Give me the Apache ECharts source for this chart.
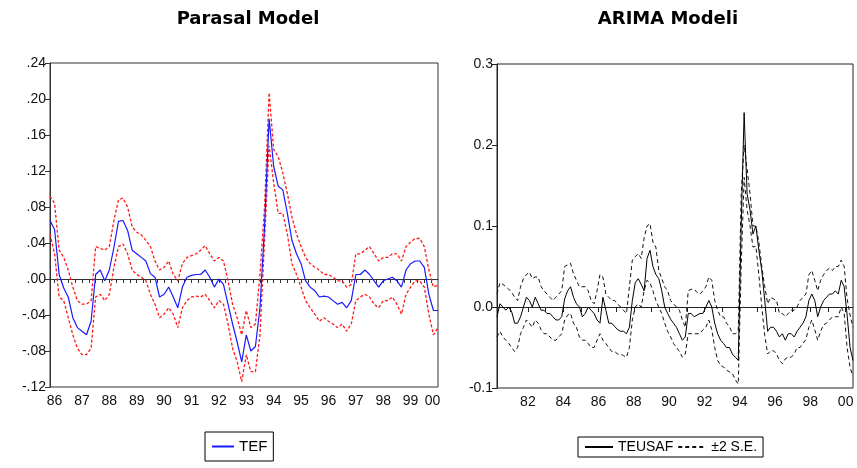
<!DOCTYPE html>
<html>
<head>
<meta charset="utf-8">
<script src="https://cdn.jsdelivr.net/npm/echarts@6/dist/echarts.min.js"></script>
<style>
  html, body { margin: 0; padding: 0; background: #fff; }
  #chart { width: 857px; height: 468px; }
</style>
</head>
<body>
<div id="chart"></div>
<script>
// left panel: bimonthly from May 1986
var leftStart = 1986 + 4 / 12;
var tef = [.065,.055,.005,-.01,-.02,-.043,-.054,-.058,-.062,-.047,
  .005,.01,-.002,.01,.035,.064,.065,.054,.032,.028,
  .024,.02,.006,.002,-.02,-.017,-.009,-.02,-.032,-.009,
  .002,.004,.005,.005,.01,.002,-.009,0,-.006,-.028,
  -.05,-.07,-.092,-.062,-.08,-.075,-.032,.058,.178,.125,
  .103,.099,.073,.043,.028,.017,-.002,-.009,-.013,-.02,
  -.019,-.02,-.024,-.028,-.026,-.032,-.024,.005,.005,.01,
  .005,-.002,-.009,-.002,0,.002,-.002,-.009,.01,.017,
  .02,.02,.013,-.017,-.035,-.035];
var tefUpper = [.092,.084,.032,.024,.01,-.009,-.024,-.028,-.028,-.024,
  .036,.034,.032,.036,.065,.088,.09,.08,.058,.052,
  .049,.043,.036,.02,.01,.013,.02,.005,-.002,.017,
  .024,.026,.028,.032,.037,.028,.02,.024,.02,-.002,
  -.028,-.043,-.062,-.035,-.054,-.05,.005,.08,.207,.144,
  .136,.118,.095,.069,.05,.036,.024,.017,.013,.01,
  .005,.005,.002,-.002,-.002,-.009,-.006,.028,.028,.032,
  .036,.028,.02,.024,.024,.028,.028,.02,.036,.041,
  .045,.045,.036,.01,-.009,-.007];
var tefLower = [.05,.028,-.02,-.024,-.043,-.062,-.077,-.084,-.084,-.077,
  -.02,-.017,-.024,-.017,.013,.036,.039,.028,.01,.005,
  .002,-.002,-.017,-.028,-.043,-.039,-.032,-.039,-.054,-.032,
  -.024,-.02,-.019,-.02,-.017,-.024,-.032,-.024,-.028,-.05,
  -.077,-.092,-.114,-.084,-.103,-.103,-.062,.043,.148,.107,
  .073,.073,.05,.017,.005,-.009,-.024,-.032,-.039,-.047,
  -.043,-.047,-.05,-.054,-.05,-.058,-.05,-.024,-.02,-.017,
  -.02,-.028,-.032,-.024,-.024,-.02,-.028,-.039,-.017,-.009,
  -.002,-.002,-.009,-.039,-.062,-.054];

// right panel: bimonthly from Apr 1980
var rightStart = 1980 + 3 / 12;
var teusaf = [-.012,.004,0,-.004,0,-.006,-.02,-.02,-.012,0,
  .012,.008,0,.012,.004,-.004,-.004,-.008,-.008,-.012,
  -.016,-.016,-.012,.01,.02,.025,.012,.004,0,-.012,
  -.008,0,-.004,-.008,-.016,-.02,.012,-.004,-.02,-.02,
  -.024,-.028,-.03,-.03,-.033,-.025,.008,.03,.035,.028,
  .02,.06,.07,.05,.04,.035,.02,0,-.008,-.015,
  -.02,-.025,-.033,-.041,-.037,-.008,-.008,-.012,-.01,-.008,
  -.008,0,.008,0,-.02,-.033,-.041,-.045,-.05,-.05,
  -.058,-.062,-.066,.1,.24,.14,.12,.09,.1,.07,
  .045,.008,-.03,-.025,-.025,-.03,-.037,-.033,-.041,-.033,
  -.033,-.037,-.03,-.025,-.02,-.012,.008,.016,.008,-.012,
  0,.008,.012,.016,.016,.02,.016,.033,.025,-.01,
  -.05,-.066];
var seUpper = [.016,.03,.028,.025,.022,.018,.012,.008,.025,.035,
  .04,.043,.035,.037,.037,.025,.02,.016,.012,.008,
  .012,.016,.02,.05,.052,.054,.041,.033,.025,.025,
  .025,.02,.008,.004,.02,.04,.037,.016,.012,.008,
  .008,.004,0,-.004,-.008,.025,.058,.062,.066,.06,
  .085,.1,.103,.08,.074,.045,.035,.025,.02,.008,
  .004,0,-.004,-.016,-.025,.02,.022,.022,.018,.016,
  .02,.025,.037,.033,.008,-.004,-.012,-.012,-.02,-.024,
  -.033,-.033,-.03,.14,.2,.17,.14,.1,.1,.08,
  .05,.025,.004,.012,.01,.008,-.008,-.008,-.012,-.008,
  -.004,-.004,0,.008,.012,.016,.04,.045,.033,.02,
  .033,.04,.045,.048,.045,.05,.05,.058,.05,.01,
  -.01,-.025];
var seLower = [-.037,-.03,-.037,-.041,-.045,-.05,-.055,-.05,-.033,-.025,
  -.016,-.02,-.025,-.016,-.02,-.028,-.033,-.033,-.037,-.041,
  -.041,-.037,-.033,-.016,-.01,-.008,-.02,-.025,-.037,-.041,
  -.041,-.045,-.05,-.05,-.041,-.033,-.041,-.045,-.05,-.055,
  -.055,-.058,-.058,-.06,-.062,-.05,-.016,0,.004,0,
  .02,.033,.03,.02,.008,0,-.008,-.02,-.03,-.037,
  -.045,-.05,-.055,-.062,-.058,-.033,-.033,-.033,-.033,-.033,
  -.028,-.025,-.016,-.028,-.05,-.066,-.072,-.074,-.078,-.08,
  -.082,-.09,-.095,.05,.16,.12,.1,.074,.075,.04,
  0,-.035,-.058,-.054,-.054,-.058,-.066,-.07,-.064,-.062,
  -.062,-.058,-.05,-.05,-.045,-.04,-.025,-.016,-.028,-.041,
  -.03,-.022,-.02,-.016,-.012,-.012,-.012,0,-.008,-.05,
  -.075,-.085];

var leftLabelAt = [1986.5,1987.5,1988.5,1989.5,1990.5,1991.5,1992.5,1993.5,
  1994.5,1995.5,1996.5,1997.5,1998.5,1999.5,2000.3];
var rightLabelAt = [1982,1984,1986,1988,1990,1992,1994,1996,1998,2000];

function pairs(start, vals) {
  return vals.map(function (v, i) { return [start + i / 6, v]; });
}
function range(a, b, step) {
  var out = [];
  for (var v = a; v <= b + 1e-9; v += step) out.push(+v.toFixed(3));
  return out;
}
function yy(v) { return String(Math.floor(v)).slice(2); }

var labelFont = { fontFamily: 'Liberation Sans', fontSize: 14, color: '#111' };
var frame = '#333';

function line(name, ax, data, color, width, dash) {
  return {
    name: name, type: 'line', xAxisIndex: ax, yAxisIndex: ax, data: data,
    symbol: 'none', lineStyle: { color: color, width: width, type: dash || 'solid' },
    itemStyle: { color: color }
  };
}

var chart = echarts.init(document.getElementById('chart'));
chart.setOption({
  animation: false,
  backgroundColor: '#fff',
  title: [
    { text: 'Parasal Model', left: 243, top: 5, textAlign: 'center',
      textStyle: { fontFamily: 'DejaVu Sans', fontWeight: 'bold', fontSize: 18, color: '#000' } },
    { text: 'ARIMA Modeli', left: 663, top: 5, textAlign: 'center',
      textStyle: { fontFamily: 'DejaVu Sans', fontWeight: 'bold', fontSize: 18, color: '#000' } }
  ],
  legend: [
    { data: ['TEF'], left: 205, top: 432, padding: [7, 6], itemWidth: 22, itemHeight: 10,
      borderColor: '#000', borderWidth: 1, borderRadius: 0, itemStyle: { opacity: 0 },
      textStyle: { fontFamily: 'Liberation Sans', fontSize: 15, color: '#000' } },
    { data: ['TEUSAF', '±2 S.E.'], left: 578, top: 437, padding: [3, 6], itemGap: 4,
      itemWidth: 28, itemHeight: 10, borderColor: '#000', borderWidth: 1, borderRadius: 0,
      itemStyle: { opacity: 0 },
      textStyle: { fontFamily: 'Liberation Sans', fontSize: 14, color: '#000' } }
  ],
  grid: [
    { left: 50, top: 63, width: 388, height: 324, show: true, borderColor: frame, borderWidth: 1 },
    { left: 497, top: 64, width: 356, height: 324, show: true, borderColor: '#222', borderWidth: 1 }
  ],
  xAxis: [
    { type: 'value', gridIndex: 0, min: leftStart, max: 2000.5,
      axisLine: { lineStyle: { color: frame } },
      axisTick: { length: 4, customValues: range(1986.5, 2000.25, 0.25), lineStyle: { color: frame } },
      axisLabel: Object.assign({ margin: 7, customValues: leftLabelAt, formatter: yy }, labelFont),
      splitLine: { show: false } },
    { type: 'value', gridIndex: 1, min: rightStart, max: rightStart + 121 / 6,
      axisLine: { lineStyle: { color: '#222' } },
      axisTick: { length: 5, customValues: range(1981, 2000, 1), lineStyle: { color: '#222' } },
      axisLabel: Object.assign({ margin: 7, customValues: rightLabelAt, formatter: yy }, labelFont),
      splitLine: { show: false } }
  ],
  yAxis: [
    { type: 'value', gridIndex: 0, min: -0.12, max: 0.24, interval: 0.04,
      axisLine: { show: true, lineStyle: { color: frame } },
      axisTick: { show: true, length: 5, lineStyle: { color: frame } },
      axisLabel: Object.assign({ margin: 4, formatter: function (v) {
        return v.toFixed(2).replace(/^(-?)0\./, '$1.');
      } }, labelFont),
      splitLine: { show: false } },
    { type: 'value', gridIndex: 1, min: -0.1, max: 0.3, interval: 0.1,
      axisLine: { show: true, lineStyle: { color: '#222' } },
      axisTick: { show: true, length: 5, lineStyle: { color: '#222' } },
      axisLabel: Object.assign({ margin: 4, formatter: function (v) { return v.toFixed(1); } }, labelFont),
      splitLine: { show: false } }
  ],
  series: [
    line('upper', 0, pairs(leftStart, tefUpper), '#ff1a1a', 1.3, [3, 2]),
    line('lower', 0, pairs(leftStart, tefLower), '#ff1a1a', 1.3, [3, 2]),
    line('TEF', 0, pairs(leftStart, tef), '#1a1aff', 1.2),
    line('±2 S.E.', 1, pairs(rightStart, seUpper), '#111', 1, [4, 3]),
    line('±2 S.E.', 1, pairs(rightStart, seLower), '#111', 1, [4, 3]),
    line('TEUSAF', 1, pairs(rightStart, teusaf), '#000', 1)
  ]
});
</script>
</body>
</html>
